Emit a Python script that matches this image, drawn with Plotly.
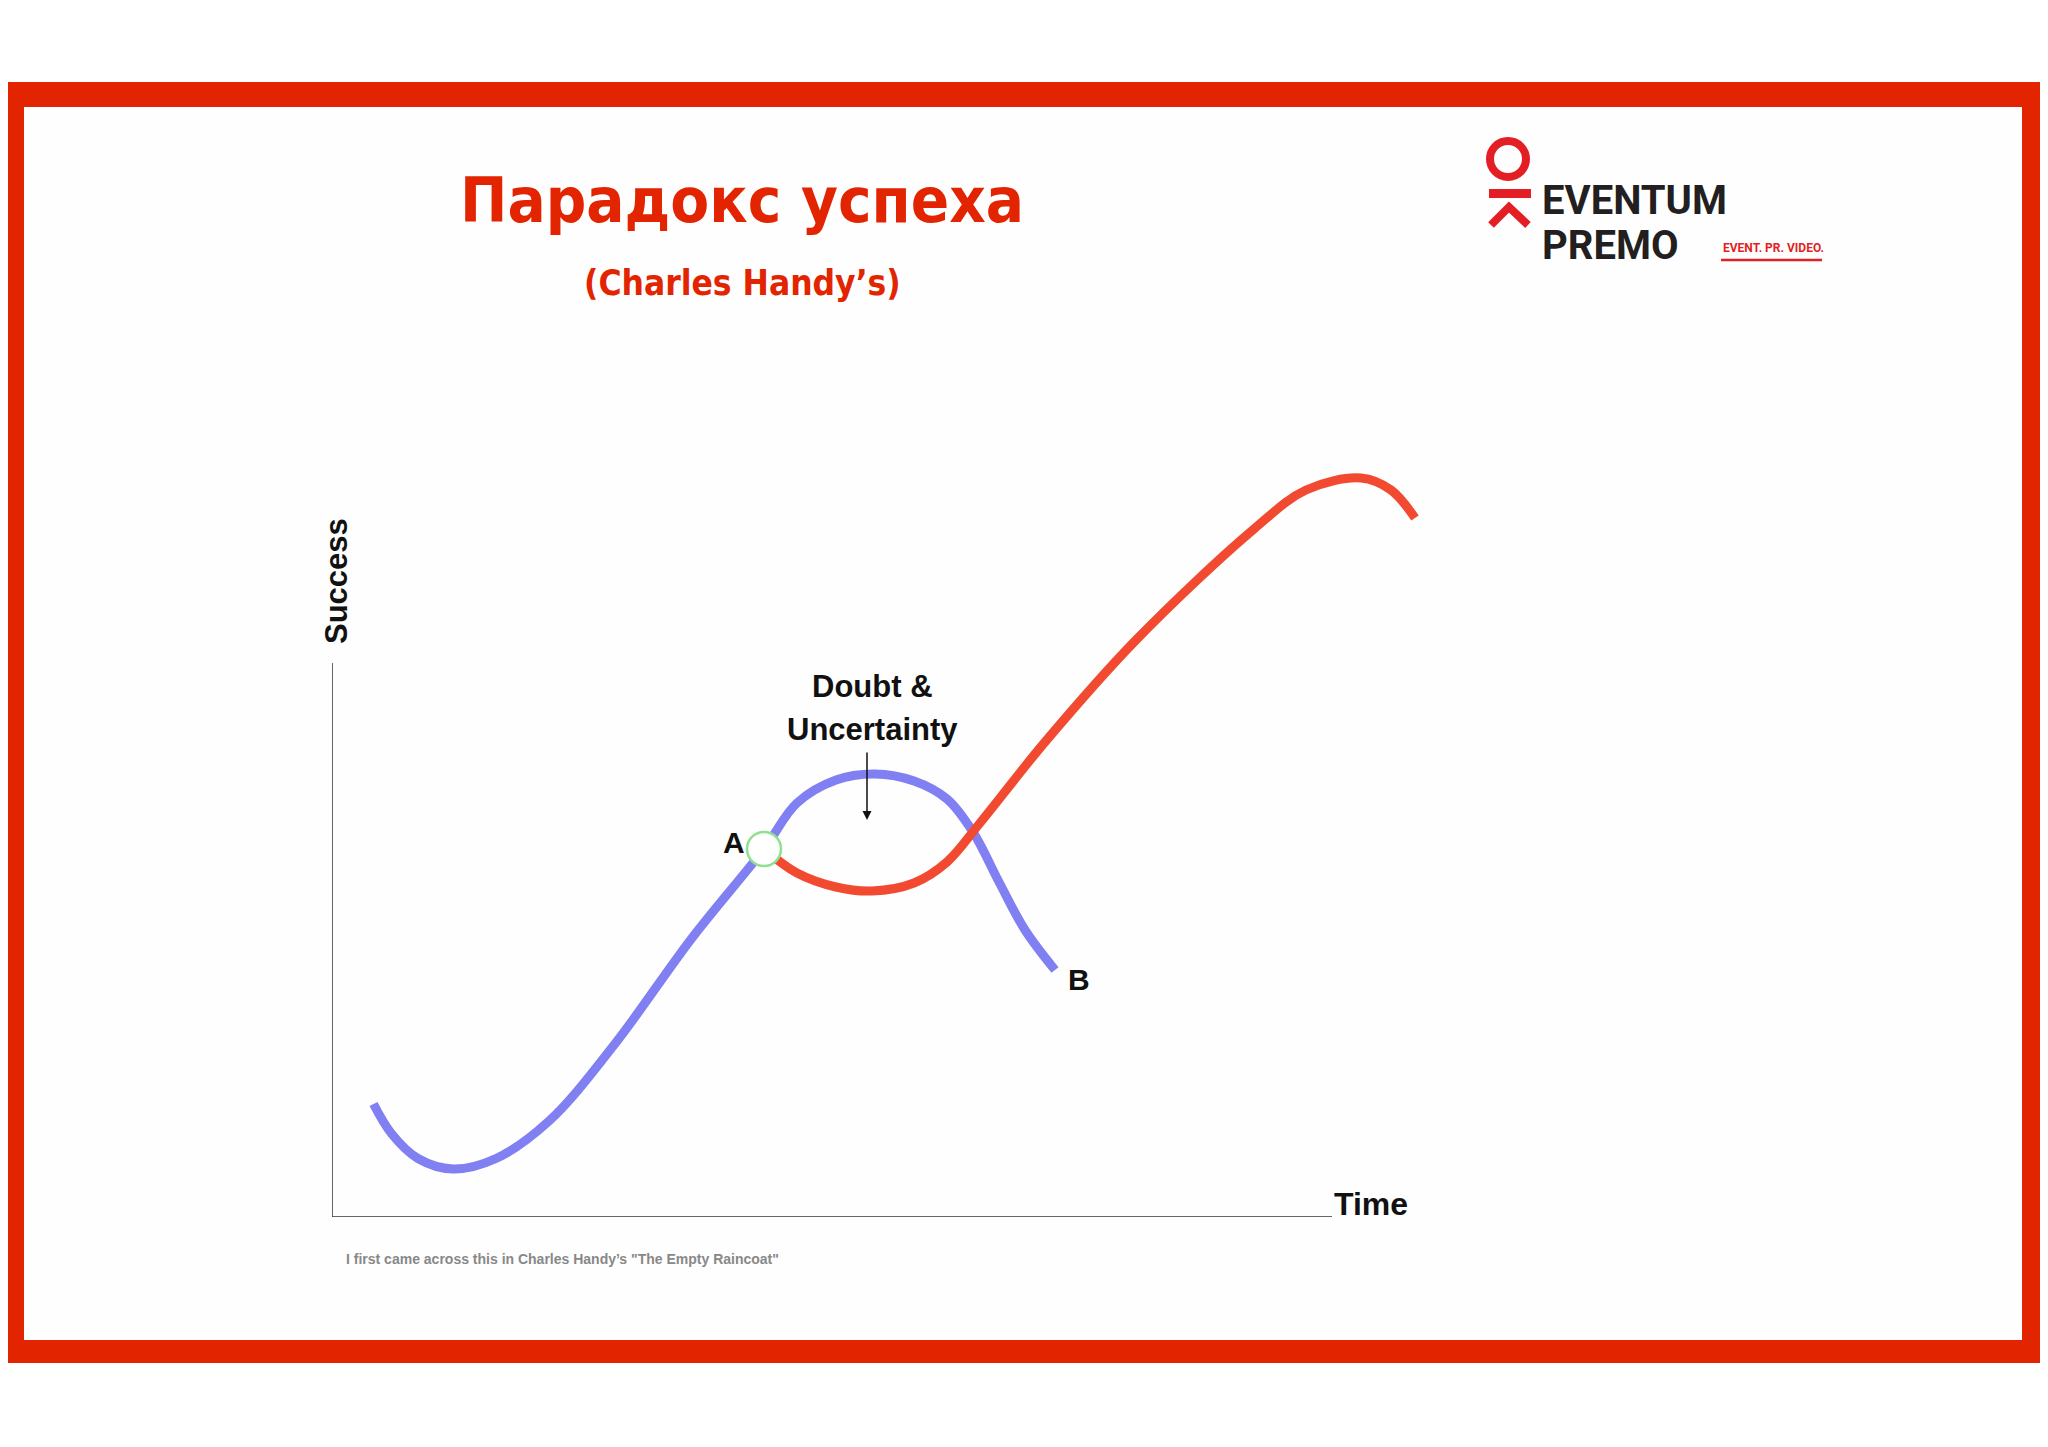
import plotly.graph_objects as go

W, H = 2048, 1447
OFF = 8  # page margin compensation
def px(x): return (x - OFF) / W
def py(y): return 1 - (y - OFF) / H

# curve values (time units, success units)
blue_t = [4.15, 5.98, 8.6, 12.1, 16.4, 21.7, 28.2, 36.0, 43.2, 46.5, 50.4, 54.3, 58.2, 61.5, 64.1, 66.7, 69.3, 72.3]
blue_s = [11.3, 8.3, 5.85, 4.8, 5.85, 9.6, 17.2, 27.9, 36.8, 41.4, 43.7, 44.3, 43.6, 41.8, 38.5, 33.5, 28.7, 24.7]
red_t = [43.2, 46.5, 50.4, 54.0, 58.2, 61.5, 64.8, 71.3, 80.4, 92.2, 97.4, 102.9, 105.9, 108.3]
red_s = [36.8, 34.4, 33.0, 32.6, 33.4, 35.5, 39.4, 47.5, 57.7, 68.8, 72.7, 73.9, 72.7, 69.9]
point_a = (43.2, 36.8)

fig = go.Figure()
fig.add_trace(go.Scatter(x=blue_t, y=blue_s, mode="lines", line=dict(color="#8080f2", width=9, shape="spline"), hoverinfo="skip"))
fig.add_trace(go.Scatter(x=red_t, y=red_s, mode="lines", line=dict(color="#f24a30", width=9, shape="spline"), hoverinfo="skip"))
fig.add_trace(go.Scatter(x=[point_a[0]], y=[point_a[1]], mode="markers",
                         marker=dict(size=34, color="white", line=dict(color="#8fe08f", width=2.5)), hoverinfo="skip"))

red = "#e32400"
shapes = [
    dict(type="rect", xref="paper", yref="paper", x0=px(-10), x1=px(2045), y0=py(1363), y1=py(82),
         fillcolor=red, line=dict(width=0), layer="below"),
    dict(type="rect", xref="paper", yref="paper", x0=px(24), x1=px(2022), y0=py(1340), y1=py(107),
         fillcolor="#fefefe", line=dict(width=0), layer="below"),
    dict(type="line", xref="x", yref="y", x0=0, x1=0, y0=0, y1=55.4, line=dict(color="#333", width=1.5)),
    dict(type="line", xref="x", yref="y", x0=0, x1=100, y0=0, y1=0, line=dict(color="#333", width=1.5)),
    dict(type="circle", xref="paper", yref="paper", x0=px(1490), x1=px(1526), y0=py(177), y1=py(141),
         line=dict(color="#e31e24", width=8)),
    dict(type="rect", xref="paper", yref="paper", x0=px(1489), x1=px(1531), y0=py(198), y1=py(189),
         fillcolor="#e31e24", line=dict(width=0)),
    dict(type="path", xref="paper", yref="paper",
         path=f"M {px(1491)} {py(225)} L {px(1509)} {py(207)} L {px(1528)} {py(225)}",
         line=dict(color="#e31e24", width=8)),
    dict(type="line", xref="paper", yref="paper", x0=px(1721), x1=px(1822), y0=py(260), y1=py(260),
         line=dict(color="#e31e24", width=2.5)),
]

def ann(text, x, y, size, color="#111", font="Liberation Sans", xanchor="center", yanchor="middle", angle=0, bold=True):
    t = f"<b>{text}</b>" if bold else text
    return dict(text=t, x=px(x), y=py(y), xref="paper", yref="paper", showarrow=False,
                font=dict(size=size, color=color, family=font), xanchor=xanchor, yanchor=yanchor, textangle=angle)

narrow = "DejaVu Sans Condensed, Liberation Sans, sans-serif"
annotations = [
    ann("Парадокс успеха", 742, 200, 63, color=red, font=narrow),
    ann("(Charles Handy’s)", 742, 283, 35, color=red, font=narrow),
    ann("Success", 336, 581, 31, angle=-90),
    ann("Time", 1371, 1204, 32),
    ann("Doubt &", 872, 686, 31),
    ann("Uncertainty", 872, 729, 31),
    ann("A", 734, 842, 30),
    ann("B", 1079, 980, 30),
    ann("I first came across this in Charles Handy’s \"The Empty Raincoat\"", 344, 1259, 14,
        color="#888", xanchor="left", bold=True),
    ann("EVENTUM", 1540, 200, 40, color="#231f20", font="Roboto", xanchor="left"),
    ann("PREMO", 1540, 245, 40, color="#231f20", font="Roboto", xanchor="left"),
    ann("EVENT. PR. VIDEO.", 1721, 248, 12, color="#e31e24", font="Roboto", xanchor="left"),
    dict(x=px(867), y=py(820), ax=0, ay=-69, xref="paper", yref="paper", axref="pixel", ayref="pixel",
         showarrow=True, arrowhead=2, arrowsize=1.2, arrowwidth=1.5, arrowcolor="#111", text=""),
]

fig.update_layout(
    width=W, height=H, margin=dict(l=0, r=0, t=0, b=0),
    paper_bgcolor="white", plot_bgcolor="rgba(0,0,0,0)", showlegend=False,
    xaxis=dict(domain=[px(332), px(1450)], range=[0, 111.8], visible=False),
    yaxis=dict(domain=[py(1217), py(440)], range=[0, 77.7], visible=False),
    shapes=shapes, annotations=annotations,
)
fig.write_html("out.html")
